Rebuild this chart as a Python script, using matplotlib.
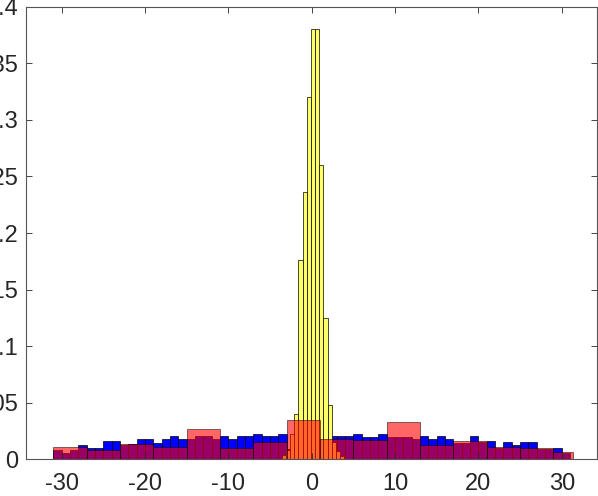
import matplotlib
matplotlib.use("Agg")
import matplotlib.pyplot as plt
import numpy as np

plt.rcParams['font.family'] = ['Liberation Sans', 'DejaVu Sans']

# ---- data ----
# blue histogram: bin width 1, bins [-31,-30] ... [30,31]
blue_left = list(range(-31, 31))
blue_heights = [0.008, 0.006, 0.008, 0.0124, 0.0103, 0.0103, 0.0164, 0.0164,
                0.0125, 0.0139, 0.0183, 0.0183, 0.0144, 0.0183, 0.0206, 0.0183,
                0.018, 0.0206, 0.0206, 0.018, 0.0204, 0.018, 0.0204, 0.0204,
                0.0224, 0.0204, 0.0204, 0.0224, 0.009, 0.016, 0.016, 0.016,
                0.016, 0.0204, 0.0204, 0.0204, 0.0221, 0.0198, 0.0198, 0.0221,
                0.020, 0.020, 0.020, 0.018, 0.0204, 0.0183, 0.0204, 0.0183,
                0.014, 0.014, 0.0204, 0.015, 0.0165, 0.010, 0.015, 0.0124,
                0.015, 0.015, 0.0095, 0.009, 0.0103, 0.006]

# yellow histogram: bin width 0.5
yellow_edges = [-3.6, -3.1, -2.6, -2.1, -1.6, -1.1, -0.6, -0.1, 0.4, 0.9,
                1.4, 1.9, 2.4, 2.9, 3.4, 3.9]
yellow_heights = [0.004, 0.008, 0.022, 0.0404, 0.176, 0.236, 0.32, 0.38, 0.38,
                  0.26, 0.1245, 0.0484, 0.015, 0.007, 0.003]

# red histogram: bin width 4
red_edges = [-31, -27, -23, -19, -15, -11, -7, -3, 1, 5, 9, 13, 17, 21, 25, 29, 31.3]
red_heights = [0.011, 0.0086, 0.0133, 0.0109, 0.0265, 0.0103, 0.0153, 0.0351,
               0.0177, 0.0168, 0.033, 0.0124, 0.0165, 0.0109, 0.0103, 0.0065]

x_ticks = [-30, -20, -10, 0, 10, 20, 30]
y_ticks = [0, 0.05, 0.1, 0.15, 0.2, 0.25, 0.3, 0.35, 0.4]
y_ticklabels = ['0', '0.05', '0.1', '0.15', '0.2', '0.25', '0.3', '0.35', '0.4']

# ---- figure ----
fig = plt.figure(figsize=(5.98, 4.96), dpi=100)
ax = fig.add_axes([0.04348, 0.07399, 0.95435, 0.91250])

ax.bar(blue_left, blue_heights, width=1.0, align='edge', color=(0, 0, 1),
       edgecolor='black', linewidth=0.5)

ye = np.array(yellow_edges)
ax.bar(ye[:-1], yellow_heights, width=np.diff(ye), align='edge',
       color=(1, 1, 0.4), edgecolor='black', linewidth=0.5)

re = np.array(red_edges)
ax.bar(re[:-1], red_heights, width=np.diff(re), align='edge',
       color=(1, 0, 0), alpha=0.6, edgecolor='black', linewidth=0.6)

ax.set_xlim(-34.3, 34.2)
ax.set_ylim(0, 0.4)
ax.set_xticks(x_ticks)
ax.set_xticklabels([str(t) for t in x_ticks])
ax.set_yticks(y_ticks)
ax.set_yticklabels(y_ticklabels)

ax.tick_params(direction='in', length=4.5, width=0.6, colors='#262626',
               top=True, right=True, labelsize=17)
ax.tick_params(axis='y', pad=5.6)
ax.tick_params(axis='x', pad=10)
for s in ax.spines.values():
    s.set_color('#555555')
    s.set_linewidth(0.8)

fig.savefig('out.png', dpi=100)
